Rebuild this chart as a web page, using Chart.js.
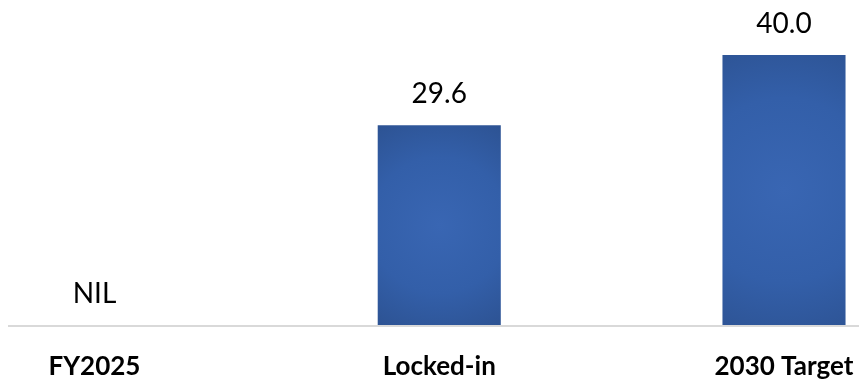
<!DOCTYPE html>
<html>
<head>
<meta charset="utf-8">
<script src="https://cdn.jsdelivr.net/npm/chart.js@4/dist/chart.umd.min.js"></script>
<style>
  html, body { margin: 0; padding: 0; background: #ffffff; }
  #wrap { width: 859px; height: 379px; position: relative; }
</style>
</head>
<body>
<div id="wrap"><canvas id="c"></canvas></div>
<script>
const categories = ['FY2025', 'Locked-in', '2030 Target'];
const values = [0, 29.6, 40.0];
const valueLabels = ['NIL', '29.6', '40.0'];

const FONT = 'Lato, "Open Sans", sans-serif';

function barFill(context) {
  const chart = context.chart;
  const xs = chart.scales.x, ys = chart.scales.y;
  if (!xs || !ys || context.dataIndex === undefined) return '#3360a8';
  const v = values[context.dataIndex];
  const cx = xs.getPixelForValue(context.dataIndex);
  const top = ys.getPixelForValue(v);
  const base = ys.getPixelForValue(0);
  if (![cx, top, base].every(Number.isFinite)) return '#3360a8';
  const h = Math.max(base - top, 1);
  const cy = top + h * 0.5;
  const ctx = chart.ctx;
  const r = Math.max(h * 0.62, 80);
  const g = ctx.createRadialGradient(cx, cy, 0, cx, cy, r);
  g.addColorStop(0, '#3966b3');
  g.addColorStop(0.55, '#335fa9');
  g.addColorStop(1, '#2c5190');
  return g;
}

const baselinePlugin = {
  id: 'baseline',
  beforeDatasetsDraw(chart) {
    const ctx = chart.ctx;
    const y = chart.scales.y.getPixelForValue(0);
    ctx.save();
    ctx.strokeStyle = '#d9d9d9';
    ctx.lineWidth = 2;
    ctx.beginPath();
    ctx.moveTo(8, y + 1);
    ctx.lineTo(chart.width, y + 1);
    ctx.stroke();
    ctx.restore();
  }
};

const labelPlugin = {
  id: 'valueLabels',
  afterDatasetsDraw(chart) {
    const ctx = chart.ctx;
    const meta = chart.getDatasetMeta(0);
    ctx.save();
    ctx.font = '400 28px ' + FONT;
    ctx.fillStyle = '#000000';
    ctx.textAlign = 'center';
    ctx.textBaseline = 'middle';
    meta.data.forEach((el, i) => {
      ctx.fillText(valueLabels[i], el.x, el.y - 31);
    });
    ctx.restore();
  }
};

new Chart(document.getElementById('c'), {
  type: 'bar',
  data: {
    labels: categories,
    datasets: [{
      data: values,
      backgroundColor: barFill,
      borderWidth: 0,
      barPercentage: 0.357,
      categoryPercentage: 1,
      clip: false
    }]
  },
  options: {
    responsive: true,
    maintainAspectRatio: false,
    animation: false,
    layout: { padding: { left: 94.5, right: 75, top: 1, bottom: 0 } },
    plugins: { legend: { display: false }, tooltip: { enabled: false } },
    scales: {
      x: {
        offset: false,
        grid: { display: false, drawTicks: false },
        border: { display: false },
        afterFit(scale) { scale.height = 54; },
        ticks: {
          padding: 4,
          color: '#000000',
          font: { family: FONT, size: 26, weight: 'bold', lineHeight: 2.9 },
          maxRotation: 0,
          autoSkip: false
        }
      },
      y: {
        display: false,
        min: 0,
        max: 48
      }
    }
  },
  plugins: [baselinePlugin, labelPlugin]
});
</script>
</body>
</html>
